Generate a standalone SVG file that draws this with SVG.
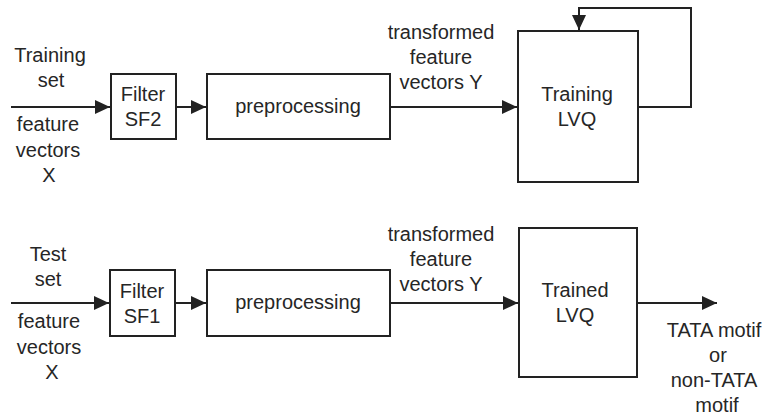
<svg xmlns="http://www.w3.org/2000/svg" width="767" height="419" viewBox="0 0 767 419">
<style>
.box{fill:#fff;stroke:#222;stroke-width:2}
.ln{fill:none;stroke:#222;stroke-width:2}
text{font-family:"Liberation Sans",Arial,sans-serif;font-size:20px;fill:#262626;text-anchor:middle}
</style>
<defs>
<marker id="ah" markerUnits="userSpaceOnUse" markerWidth="16" markerHeight="14" refX="15" refY="7" orient="auto">
<path d="M0,0 L15,7 L0,14 z" fill="#222"/>
</marker>
</defs>
<rect width="767" height="419" fill="#fff"/>
<g id="connectors">
<path class="ln" d="M11,107 H110" marker-end="url(#ah)"/>
<path class="ln" d="M176,107 H206" marker-end="url(#ah)"/>
<path class="ln" d="M390,107 H517" marker-end="url(#ah)"/>
<path class="ln" d="M638,107 H691 V8 H579 V30" marker-end="url(#ah)"/>
<path class="ln" d="M11,303 H109" marker-end="url(#ah)"/>
<path class="ln" d="M175,303 H206" marker-end="url(#ah)"/>
<path class="ln" d="M390,303 H518" marker-end="url(#ah)"/>
<path class="ln" d="M637,303 H717" marker-end="url(#ah)"/>
</g>
<g id="labels">
<text x="50" y="62">Training</text>
<text x="51" y="87">set</text>
<text x="48" y="131">feature</text>
<text x="48" y="157">vectors</text>
<text x="49" y="182">X</text>
<text x="441" y="39">transformed</text>
<text x="441" y="64">feature</text>
<text x="441" y="89">vectors Y</text>
<text x="48" y="261">Test</text>
<text x="48" y="286">set</text>
<text x="49" y="328">feature</text>
<text x="49" y="354">vectors</text>
<text x="52" y="379">X</text>
<text x="441" y="241">transformed</text>
<text x="441" y="266">feature</text>
<text x="441" y="291">vectors Y</text>
<text x="714" y="337">TATA motif</text>
<text x="718" y="362">or</text>
<text x="714" y="387">non-TATA</text>
<text x="717" y="412">motif</text>
</g>
<g id="filter-sf2">
<rect class="box" x="111" y="74" width="65" height="65"/>
<text x="143" y="101">Filter</text>
<text x="143" y="126">SF2</text>
</g>
<g id="preprocessing-1">
<rect class="box" x="207" y="74" width="183" height="65"/>
<text x="298" y="113">preprocessing</text>
</g>
<g id="training-lvq">
<rect class="box" x="518" y="31" width="120" height="151"/>
<text x="577" y="101">Training</text>
<text x="577" y="126">LVQ</text>
</g>
<g id="filter-sf1">
<rect class="box" x="110" y="270" width="65" height="66"/>
<text x="142" y="298">Filter</text>
<text x="142" y="323">SF1</text>
</g>
<g id="preprocessing-2">
<rect class="box" x="207" y="270" width="183" height="66"/>
<text x="298" y="309">preprocessing</text>
</g>
<g id="trained-lvq">
<rect class="box" x="519" y="228" width="118" height="149"/>
<text x="575" y="297">Trained</text>
<text x="575" y="322">LVQ</text>
</g>
</svg>
